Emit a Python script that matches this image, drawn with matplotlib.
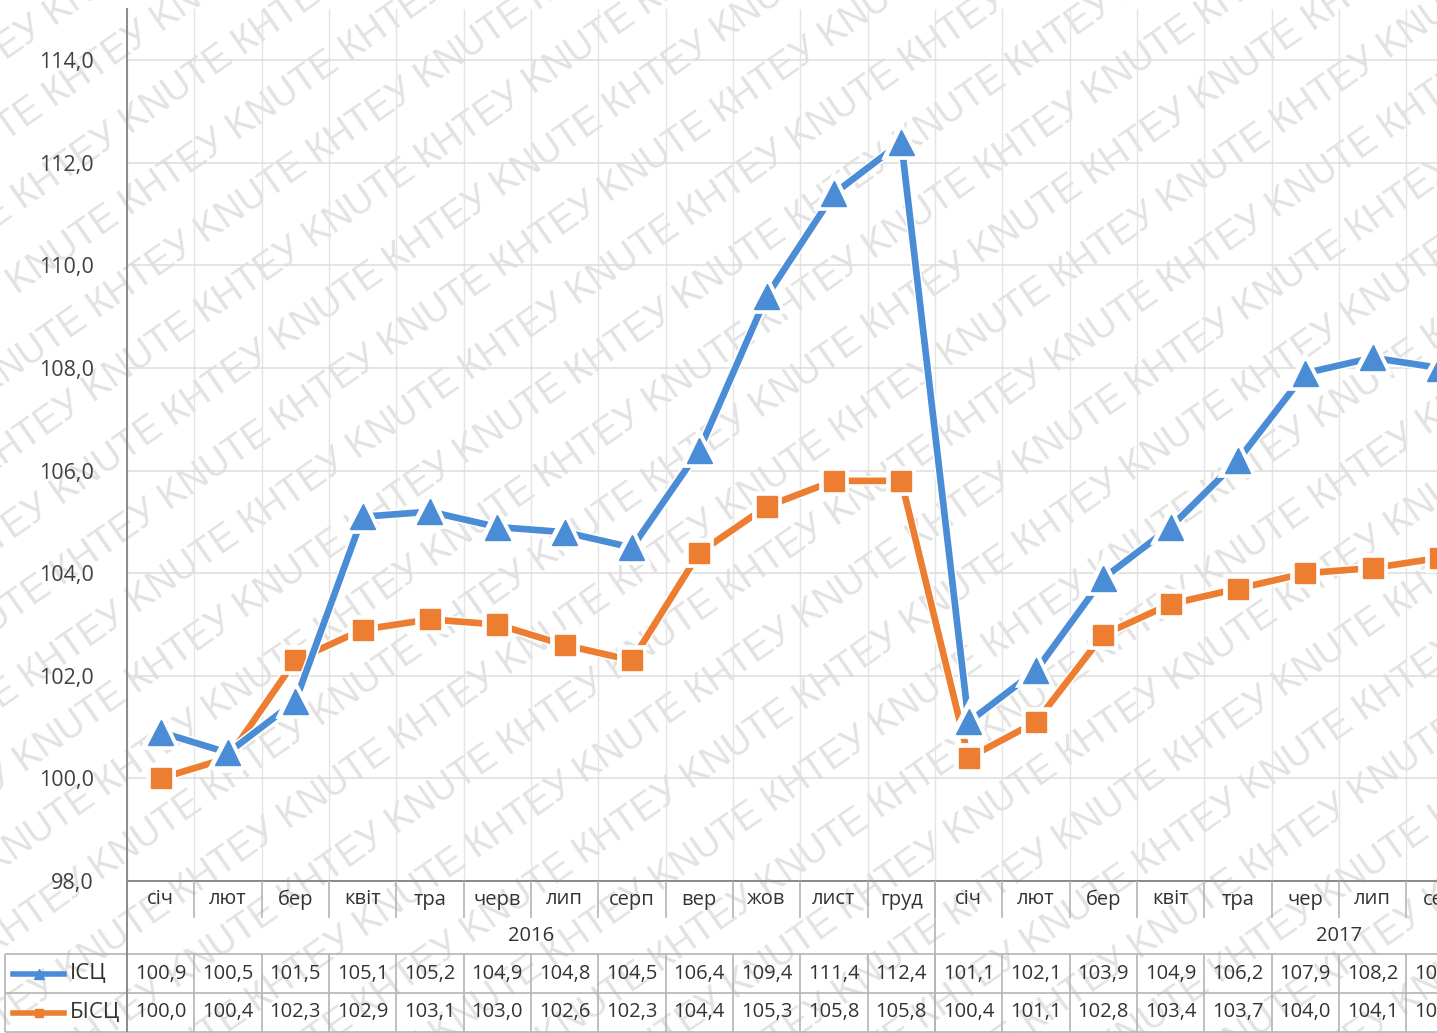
import matplotlib
matplotlib.use("Agg")
import matplotlib.pyplot as plt
import numpy as np
from matplotlib import patheffects as pe

plt.rcParams["font.family"] = ["Open Sans", "DejaVu Sans"]

# ---- data -------------------------------------------------------------
months_2016 = ["січ", "лют", "бер", "квіт", "тра", "черв", "лип", "серп",
               "вер", "жов", "лист", "груд"]
months_2017 = ["січ", "лют", "бер", "квіт", "тра", "чер", "лип", "сер"]
years = ["2016", "2017"]
series_names = ["ІСЦ", "БІСЦ"]
isc = [100.9, 100.5, 101.5, 105.1, 105.2, 104.9, 104.8, 104.5, 106.4, 109.4,
       111.4, 112.4, 101.1, 102.1, 103.9, 104.9, 106.2, 107.9, 108.2, 108.0]
bisc = [100.0, 100.4, 102.3, 102.9, 103.1, 103.0, 102.6, 102.3, 104.4, 105.3,
        105.8, 105.8, 100.4, 101.1, 102.8, 103.4, 103.7, 104.0, 104.1, 104.3]
yticks = [98, 100, 102, 104, 106, 108, 110, 112, 114]

categories = months_2016 + months_2017
x = np.arange(len(categories))

# ---- layout (pixels) ---------------------------------------------------
W, H, DPI = 1437, 1033, 100
cat_w = 67.33
left_px = 127
n_slots = 24                      # two full years of monthly slots
axes_w_px = n_slots * cat_w
top_px, axis_px = 8.9, 881
rows_px = [881, 918, 954, 993, 1032]
leg_left = -0.5 - (left_px - 5) / cat_w

blue = "#4A8CD5"
orange = "#ED7D31"
txt = "#333333"
grid_c = "#dcdcdc"
table_c = "#b4b4b4"

fig = plt.figure(figsize=(W / DPI, H / DPI), dpi=DPI)
fig.patch.set_facecolor("white")

# ---- watermark ---------------------------------------------------------
ang = np.deg2rad(35)
d = np.array([np.cos(ang), np.sin(ang)])
nrm = np.array([-np.sin(ang), np.cos(ang)])
mark = ("KNUTE КНТЕУ " * 10).strip()
cx, cy = W / 2, H / 2
for k in range(-20, 21):
    px, py = np.array([cx, cy]) + k * 66 * nrm + (k % 2) * 85 * d
    fig.text(px / W, py / H, mark, rotation=35, rotation_mode="anchor",
             ha="center", va="center", fontsize=27, color="#e2e2e2",
             family=["Liberation Sans", "DejaVu Sans"], zorder=-5)

# ---- main plot ---------------------------------------------------------
ax = fig.add_axes([left_px / W, (H - axis_px) / H, axes_w_px / W,
                   (axis_px - top_px) / H])
ax.set_facecolor("none")
ax.set_xlim(-0.5, n_slots - 0.5)
ax.set_ylim(98, 115)
ax.set_yticks(yticks)
ax.set_yticklabels([f"{v:.1f}".replace(".", ",") for v in yticks])
ax.set_xticks(np.arange(-0.5, n_slots), minor=True)
ax.set_xticks([])
ax.yaxis.grid(True, color=grid_c, lw=1.1)
ax.xaxis.grid(True, which="minor", color="#e4e4e4", lw=1.0)
ax.set_axisbelow(True)
ax.tick_params(axis="y", length=0, pad=24, labelsize=15.5, labelcolor="#404040")
ax.tick_params(axis="x", which="both", length=0, labelbottom=False)
for s in ["top", "right", "bottom"]:
    ax.spines[s].set_visible(False)
ax.spines["left"].set_color("#8a8a8a")
ax.spines["left"].set_linewidth(1.4)

glow = [pe.Stroke(linewidth=7, foreground="white"), pe.Normal()]
ax.plot(x, isc, color=blue, lw=4.8, marker="^", ms=18, mec=blue,
        path_effects=glow, zorder=4, clip_on=False)
ax.plot(x, bisc, color=orange, lw=4.8, marker="s", ms=14.5, mec=orange,
        path_effects=glow, zorder=3, clip_on=False)

# ---- data table --------------------------------------------------------
tax = fig.add_axes([left_px / W, 0, axes_w_px / W, (H - axis_px) / H])
tax.set_xlim(-0.5, n_slots - 0.5)
tax.set_ylim(H, axis_px)
tax.axis("off")

lk = dict(color=table_c, lw=1.2, clip_on=False)
tax.hlines(rows_px[0], -0.5, n_slots - 0.5, color="#8a8a8a", lw=1.4, clip_on=False)
for r in rows_px[2:]:
    tax.hlines(r, leg_left, n_slots - 0.5, **lk)
for b in np.arange(0.5, n_slots - 0.5):
    tax.vlines(b, rows_px[0], rows_px[1], **lk)
    tax.vlines(b, rows_px[2], rows_px[4], **lk)
for b in [11.5, 23.5]:
    tax.vlines(b, rows_px[0], rows_px[4], **lk)
tax.vlines(-0.5, rows_px[0], rows_px[4], color="#8a8a8a", lw=1.4, clip_on=False)
tax.vlines(leg_left, rows_px[2], rows_px[4], **lk)

fs = 14.5
cat_y = (rows_px[0] + rows_px[1]) / 2
year_y = (rows_px[1] + rows_px[2]) / 2
val_y = [(rows_px[2] + rows_px[3]) / 2, (rows_px[3] + rows_px[4]) / 2]

for i, c in enumerate(categories):
    tax.text(i, cat_y, c, ha="center", va="center", fontsize=fs, color=txt)
for j, yr in enumerate(years):
    tax.text(12 * j + 5.5, year_y, yr, ha="center", va="center",
             fontsize=fs, color=txt)

for row, (vals, name, col, mk, ms) in enumerate(
        [(isc, series_names[0], blue, "^", 7), (bisc, series_names[1], orange, "s", 6)]):
    yy = val_y[row]
    for i, v in enumerate(vals):
        tax.text(i, yy, f"{v:.1f}".replace(".", ","), ha="center", va="center",
                 fontsize=fs, color=txt, clip_on=False)
    k0 = -0.5 - (left_px - 13) / cat_w
    k1 = -0.5 - (left_px - 64) / cat_w
    tax.plot([k0, k1], [yy, yy], color=col, lw=4, clip_on=False)
    tax.plot([(k0 + k1) / 2], [yy], color=col, marker=mk, ms=ms, clip_on=False)
    tax.text(-0.5 - (left_px - 70) / cat_w, yy, name, ha="left", va="center",
             fontsize=fs + 1.5, color=txt)

fig.savefig("out.png", dpi=DPI)
